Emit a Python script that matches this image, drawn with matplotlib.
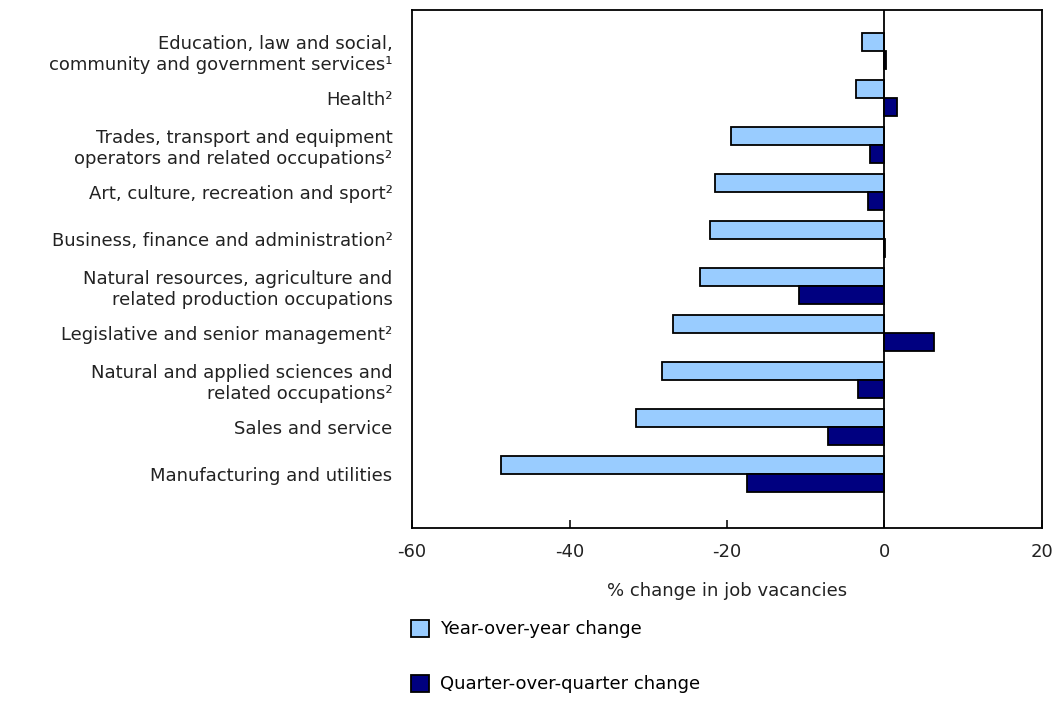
import numpy as np
import matplotlib.pyplot as plt
from matplotlib.patches import Patch

categories = [
    "Education, law and social,\ncommunity and government services\u00b9",
    "Health\u00b2",
    "Trades, transport and equipment\noperators and related occupations\u00b2",
    "Art, culture, recreation and sport\u00b2",
    "Business, finance and administration\u00b2",
    "Natural resources, agriculture and\nrelated production occupations",
    "Legislative and senior management\u00b2",
    "Natural and applied sciences and\nrelated occupations\u00b2",
    "Sales and service",
    "Manufacturing and utilities",
]
year_over_year = [-2.9, -3.6, -19.5, -21.5, -22.2, -23.4, -26.9, -28.3, -31.5, -48.7]
quarter_over_quarter = [0.2, 1.6, -1.9, -2.1, 0.1, -10.9, 6.3, -3.4, -7.2, -17.4]
xticks = [-60, -40, -20, 0, 20]

light = "#99ccff"
dark = "#000080"

plt.rcParams["font.family"] = ["DejaVu Sans"]
plt.rcParams["font.size"] = 13

fig = plt.figure(figsize=(10.57, 7.01), dpi=100)
ax = fig.add_axes([0.3898, 0.2468, 0.596, 0.739])

y = np.arange(len(categories))
h = 0.383
ax.barh(y - h / 2, year_over_year, height=h, color=light, edgecolor="black", linewidth=1.3)
ax.barh(y + h / 2, quarter_over_quarter, height=h, color=dark, edgecolor="black", linewidth=1.3)
ax.axvline(0, color="black", linewidth=1.3, zorder=3)

ax.set_xlim(-60, 20)
ax.set_ylim(len(categories) - 1 + 1.15, -0.87)
ax.set_xticks(xticks)
ax.set_xticklabels([str(t) for t in xticks])
ax.set_yticks(y)
ax.set_yticklabels(categories, color="#222222", linespacing=1.25)
ax.tick_params(axis="y", length=0, pad=14)
ax.tick_params(axis="x", direction="in", length=6, width=1.3, pad=11, colors="#222222")
for s in ax.spines.values():
    s.set_linewidth(1.3)
ax.set_xlabel("% change in job vacancies", labelpad=15, color="#222222")

handles = [
    Patch(facecolor=light, edgecolor="black", linewidth=1.3),
    Patch(facecolor=dark, edgecolor="black", linewidth=1.3),
]
fig.legend(handles, ["Year-over-year change", "Quarter-over-quarter change"],
           loc="upper left", bbox_to_anchor=(0.389, 0.116), frameon=False,
           handlelength=1.0, handleheight=1.1, handletextpad=0.6,
           labelspacing=2.0, borderaxespad=0, borderpad=0)

fig.savefig("out.png", dpi=100)
